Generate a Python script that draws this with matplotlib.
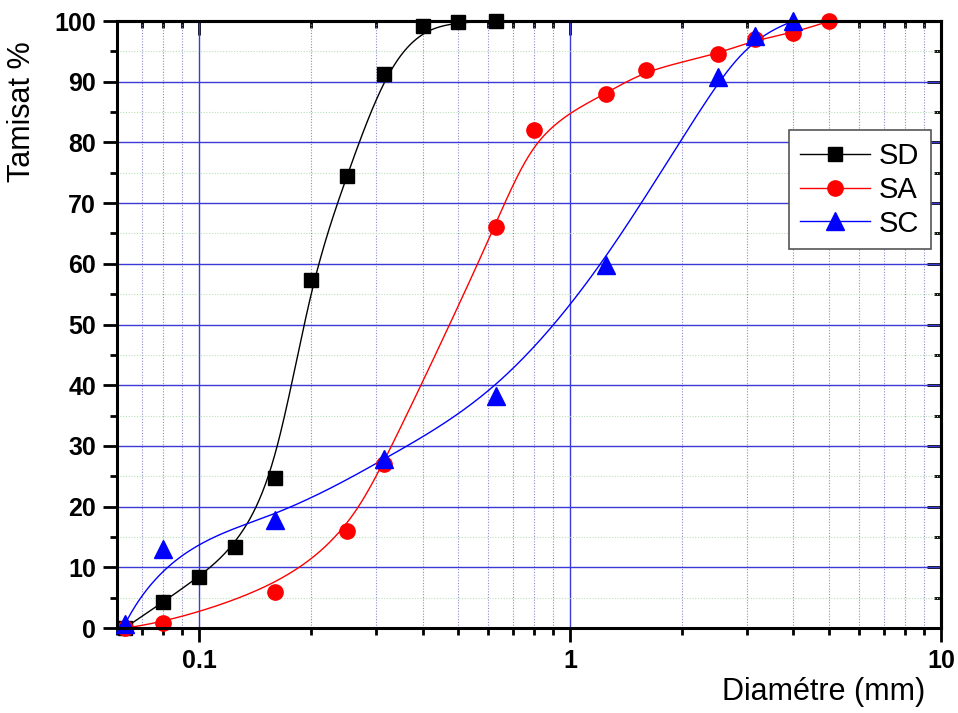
import numpy as np
import matplotlib.pyplot as plt
from matplotlib.ticker import LogLocator, FixedLocator, MultipleLocator, FuncFormatter

plt.rc('font', family=['Liberation Sans', 'DejaVu Sans'])

# analyse granulométrique : diamètre des tamis (mm) et tamisat cumulé (%)
d_sd = [0.063, 0.08, 0.1, 0.125, 0.16, 0.2, 0.25, 0.315, 0.4, 0.5, 0.63]
t_sd = [0.0, 4.3, 8.4, 13.4, 24.7, 57.4, 74.5, 91.3, 99.2, 99.8, 100.0]

d_sa = [0.063, 0.08, 0.16, 0.25, 0.315, 0.63, 0.8, 1.25, 1.6, 2.5, 3.15, 4.0, 5.0]
t_sa = [0.0, 0.8, 6.0, 16.0, 27.0, 66.0, 82.0, 88.0, 92.0, 94.5, 97.0, 98.0, 100.0]

d_sc = [0.063, 0.08, 0.16, 0.315, 0.63, 1.25, 2.5, 3.15, 4.0]
t_sc = [0.6, 13.0, 17.8, 27.8, 38.3, 59.8, 90.8, 97.6, 100.0]

names = ['SD', 'SA', 'SC']
colors = ['black', '#ff0000', '#0000ff']
markers = ['s', 'o', '^']
msizes = [10.5, 11, 13]


def bspline(x, y, k=3, npts=400):
    # B-spline cubique (bornée) avec les points comme points de contrôle, en log(x)
    P = np.column_stack([np.log10(x), y])
    n = len(P) - 1
    k = min(k, n)
    knots = np.concatenate([np.zeros(k), np.arange(n - k + 2), np.full(k, n - k + 1)]).astype(float)
    u = np.linspace(0, knots[-1], npts)
    u[-1] -= 1e-9

    def basis(i, p, t):
        if p == 0:
            return np.where((knots[i] <= t) & (t < knots[i + 1]), 1.0, 0.0)
        a = 0.0
        b = 0.0
        if knots[i + p] != knots[i]:
            a = (t - knots[i]) / (knots[i + p] - knots[i]) * basis(i, p - 1, t)
        if knots[i + p + 1] != knots[i + 1]:
            b = (knots[i + p + 1] - t) / (knots[i + p + 1] - knots[i + 1]) * basis(i + 1, p - 1, t)
        return a + b

    curve = np.zeros((npts, 2))
    for i in range(n + 1):
        curve += basis(i, k, u)[:, None] * P[i]
    return 10 ** curve[:, 0], curve[:, 1]


fig = plt.figure(figsize=(9.58, 7.13), dpi=100)
ax = fig.add_axes([0.1221, 0.1192, 0.8602, 0.8513])

series = [(d_sd, t_sd), (d_sa, t_sa), (d_sc, t_sc)]
for i, (d, t) in enumerate(series):
    xs, ys = bspline(d, t)
    ax.plot(xs, ys, '-', color=colors[i], lw=1.0, zorder=3)
    ax.plot(d, t, linestyle='none', marker=markers[i], color=colors[i],
            markersize=msizes[i], clip_on=False, zorder=4 + i)
    # entrée de légende
    ax.plot([], [], '-', color=colors[i], lw=1.0, marker=markers[i],
            markersize=msizes[i], label=names[i])

ax.set_xscale('log')
ax.set_xlim(0.06, 10)
ax.set_ylim(0, 100)

ax.xaxis.set_major_locator(FixedLocator([0.1, 1, 10]))
ax.xaxis.set_major_formatter(FuncFormatter(lambda v, p: '%g' % v))
ax.xaxis.set_minor_locator(LogLocator(base=10, subs=np.arange(2, 10), numticks=20))
ax.xaxis.set_minor_formatter(FuncFormatter(lambda v, p: ''))
ax.yaxis.set_major_locator(MultipleLocator(10))
ax.yaxis.set_minor_locator(MultipleLocator(5))

ax.grid(which='major', color='#3a3ad6', lw=1.0, zorder=1)
ax.xaxis.grid(which='minor', color='#8c8cc8', lw=0.8, linestyle=(0, (1, 1.5)), zorder=1)
ax.yaxis.grid(which='minor', color='#b8e0b8', lw=0.8, linestyle=(0, (1, 1.5)), zorder=1)
ax.set_axisbelow(True)

for s in ax.spines.values():
    s.set_linewidth(2.2)
    s.set_zorder(10)

ax.tick_params(which='both', direction='out', width=2.0, top=False, right=False)
ax.tick_params(which='major', length=10, labelsize=18, pad=5)
ax.tick_params(which='minor', length=5)
for lab in ax.get_xticklabels() + ax.get_yticklabels():
    lab.set_fontweight('bold')

# graduations intérieures en haut et à droite
axt = ax.secondary_xaxis('top')
axt.xaxis.set_major_locator(FixedLocator([0.1, 1, 10]))
axt.xaxis.set_minor_locator(LogLocator(base=10, subs=np.arange(2, 10), numticks=20))
axt.tick_params(which='both', direction='in', width=2.0, labeltop=False)
axt.tick_params(which='major', length=10)
axt.tick_params(which='minor', length=5)
axt.xaxis.set_major_formatter(FuncFormatter(lambda v, p: ''))
axt.xaxis.set_minor_formatter(FuncFormatter(lambda v, p: ''))
axt.spines['top'].set_linewidth(2.2)

axr = ax.secondary_yaxis('right')
axr.yaxis.set_major_locator(MultipleLocator(10))
axr.yaxis.set_minor_locator(MultipleLocator(5))
axr.tick_params(which='both', direction='in', width=2.0, labelright=False)
axr.tick_params(which='major', length=10)
axr.tick_params(which='minor', length=5)
axr.spines['right'].set_linewidth(2.2)

ax.set_xlabel('Diamétre (mm)', fontsize=22)
ax.set_ylabel('Tamisat %', fontsize=22)
ax.xaxis.set_label_coords(0.858, -0.08)
ax.yaxis.set_label_coords(-0.097, 0.85)

leg = ax.legend(loc='upper left', bbox_to_anchor=(0.815, 0.82), fontsize=21,
                fancybox=False, framealpha=1, edgecolor='#555555',
                handlelength=2.4, handletextpad=0.3, borderpad=0.4,
                labelspacing=0.2, borderaxespad=0)
leg.get_frame().set_linewidth(1.2)
leg.set_zorder(20)

plt.savefig('out.png', dpi=100)
